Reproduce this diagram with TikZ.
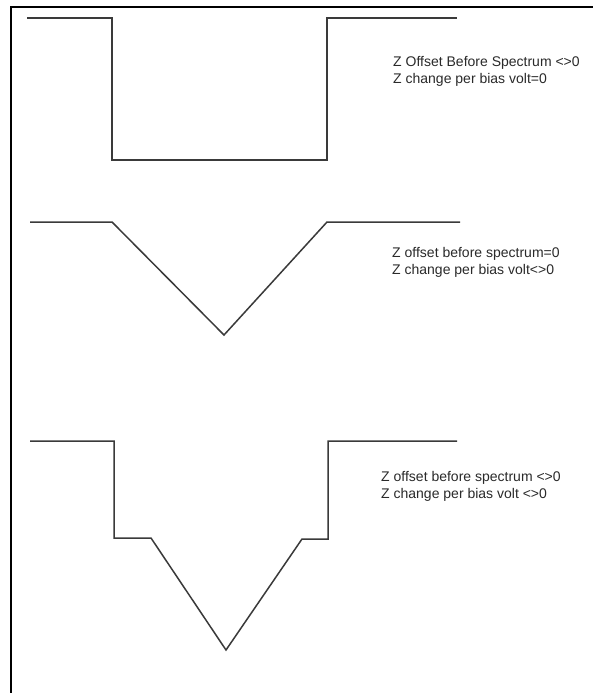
\documentclass[tikz,border=0pt]{standalone}
\usepackage{fontspec}
\setmainfont{Liberation Sans}
\definecolor{wave}{HTML}{3A3A3A}
\definecolor{txt}{HTML}{2A2A2A}
\begin{document}
\begin{tikzpicture}[x=1pt,y=-1pt,
  wave/.style={draw=wave,line width=1.5pt,line join=miter},
  frame/.style={draw=black,line width=1.2pt},
  label/.style={anchor=west,align=left,inner sep=0pt,text=txt,font=\fontsize{14}{17}\selectfont}]
\useasboundingbox (0,0) rectangle (593,693);
\fill[white] (0,0) rectangle (593,693);
% frame (left and top edges)
\draw[frame] (11,693) -- (11,7) -- (593,7);
% curve 1
\draw[wave] (27,18) -- (112,18) -- (112,160) -- (327,160) -- (327,18) -- (457,18);
\node[label] (t1) at (393,71.5) {Z Offset Before Spectrum <>0\\Z change per bias volt=0};
% curve 2
\draw[wave] (30,222) -- (112,222) -- (224,335) -- (327,222) -- (460,222);
\node[label] (t2) at (392,262) {Z offset before spectrum=0\\Z change per bias volt<>0};
% curve 3
\draw[wave] (30,441) -- (114,441) -- (114,538) -- (151,538) -- (226,650) -- (302,539) -- (328,539) -- (328,441) -- (457,441);
\node[label] (t3) at (381,486.5) {Z offset before spectrum <>0\\Z change per bias volt <>0};
\end{tikzpicture}
\end{document}
